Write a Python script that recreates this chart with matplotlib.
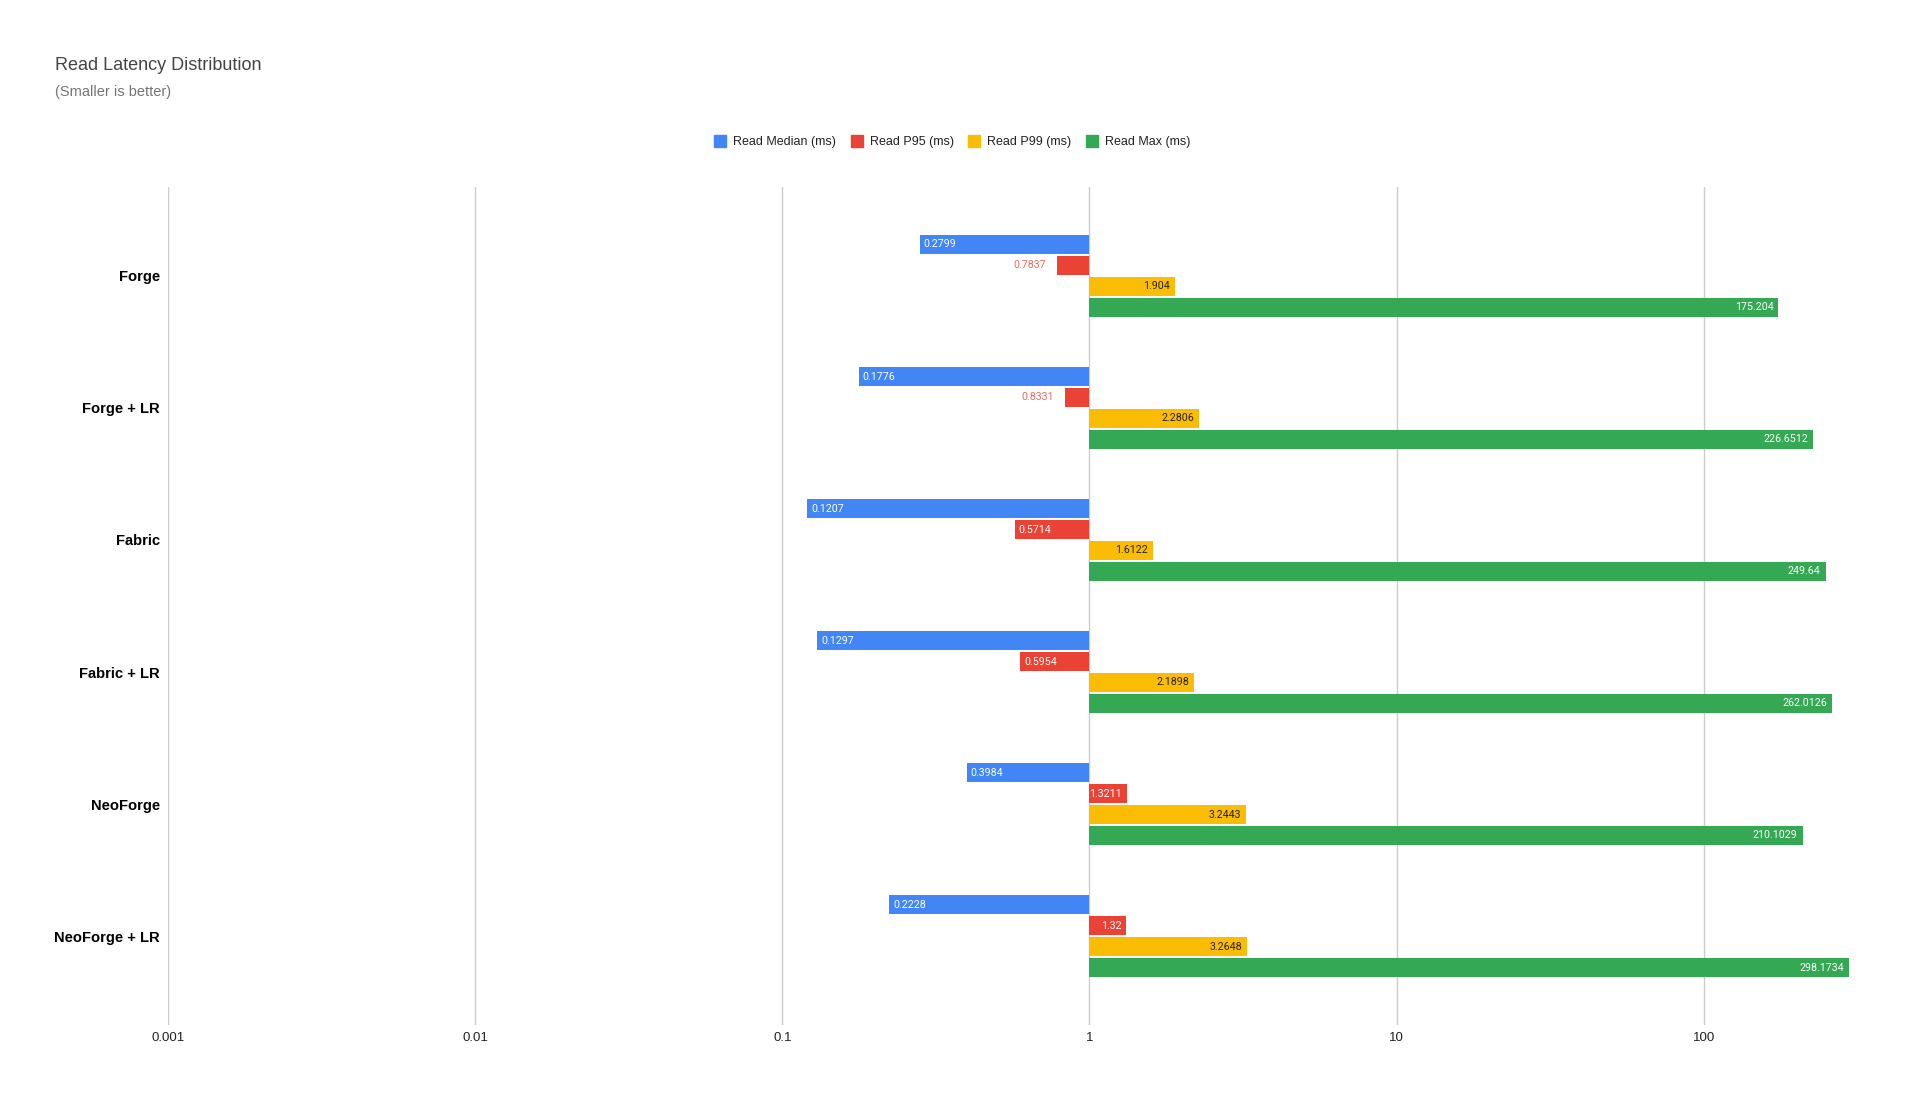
import numpy as np
import matplotlib
matplotlib.use("Agg")
import matplotlib.pyplot as plt
from matplotlib.lines import Line2D

plt.rcParams['font.family'] = ['Liberation Sans', 'DejaVu Sans']

# Data
categories = ["Forge", "Forge + LR", "Fabric", "Fabric + LR", "NeoForge", "NeoForge + LR"]
series_names = ["Read Median (ms)", "Read P95 (ms)", "Read P99 (ms)", "Read Max (ms)"]
read_median = [0.2799, 0.1776, 0.1207, 0.1297, 0.3984, 0.2228]
read_p95 = [0.7837, 0.8331, 0.5714, 0.5954, 1.3211, 1.32]
read_p99 = [1.904, 2.2806, 1.6122, 2.1898, 3.2443, 3.2648]
read_max = [175.204, 226.6512, 249.64, 262.0126, 210.1029, 298.1734]
x_ticks = [0.001, 0.01, 0.1, 1, 10, 100]
x_tick_labels = ["0.001", "0.01", "0.1", "1", "10", "100"]

series = [read_median, read_p95, read_p99, read_max]
colors = ["#4285F4", "#EA4335", "#FBBC04", "#34A853"]
inside_text = ["#ffffff", "#ffffff", "#222222", "#ffffff"]
outside_text = ["#6d9ef6", "#ee6a60", "#c99600", "#5cb873"]

W, H = 1905, 1100
fig = plt.figure(figsize=(W / 100, H / 100), dpi=100)
ax = fig.add_axes([168 / W, 1 - 1025 / H, (1852 - 168) / W, (1025 - 187) / H])

ax.set_xscale('log')
ax.set_xlim(0.001, 10 ** 2.483)
ax.set_ylim(5.674, -0.674)

y = np.arange(len(categories))
pitch = 0.159
height = 0.144
base = 1.0

bars_all = []
for i, vals in enumerate(series):
    vals = np.array(vals)
    yy = y + (i - 1.5) * pitch
    left = np.minimum(vals, base)
    width = np.abs(vals - base)
    ax.barh(yy, width, left=left, height=height, color=colors[i],
            zorder=3, linewidth=0)
    bars_all.append((i, vals, yy))

# Grid
ax.set_xticks(x_ticks)
ax.set_xticklabels(x_tick_labels)
ax.minorticks_off()
ax.grid(axis='x', color='#cccccc', linewidth=1, zorder=0)
ax.tick_params(axis='x', length=0, pad=5, labelsize=9.5, labelcolor='#222222')
ax.set_yticks(y)
ax.set_yticklabels(categories, fontweight='bold', fontsize=10.6, color='#000000')
ax.tick_params(axis='y', length=0, pad=6)
for lbl in ax.get_yticklabels():
    lbl.set_va('center_baseline')
for s in ax.spines.values():
    s.set_visible(False)

# Data labels
fig.canvas.draw()
renderer = fig.canvas.get_renderer()
lab_font = dict(fontsize=7.7, family=['Roboto', 'DejaVu Sans'], va='center', zorder=4)
for i, vals, yy in bars_all:
    for v, yc in zip(vals, yy):
        label = str(v)
        x0 = ax.transData.transform((base, yc))[0]
        x1 = ax.transData.transform((v, yc))[0]
        bar_px = abs(x1 - x0)
        if v < base:
            t = ax.annotate(label, (v, yc), xytext=(4, 0), textcoords='offset pixels',
                            ha='left', color=inside_text[i], **lab_font)
        else:
            t = ax.annotate(label, (v, yc), xytext=(-5, 0), textcoords='offset pixels',
                            ha='right', color=inside_text[i], **lab_font)
        tw = t.get_window_extent(renderer).width
        if tw + 2 > bar_px:
            t.remove()
            if v < base:
                ax.annotate(label, (v, yc), xytext=(-11, 0), textcoords='offset pixels',
                            ha='right', color=outside_text[i], **lab_font)
            else:
                ax.annotate(label, (v, yc), xytext=(11, 0), textcoords='offset pixels',
                            ha='left', color=outside_text[i], **lab_font)

# Title and subtitle
fig.text(55 / W, 1 - 66 / H, "Read Latency Distribution", fontsize=13, color='#444444',
         ha='left', va='center')
fig.text(55 / W, 1 - 92 / H, "(Smaller is better)", fontsize=10.5, color='#757575',
         ha='left', va='center')

# Legend
handles = [Line2D([], [], marker='s', linestyle='none', markersize=8.4,
                  markerfacecolor=c, markeredgecolor=c) for c in colors]
fig.legend(handles, series_names, loc='center', bbox_to_anchor=(0.5, 1 - 142 / H),
           ncol=4, frameon=False, fontsize=9.0, handlelength=0.9, handletextpad=0.6,
           columnspacing=1.2, labelcolor='#222222')

fig.savefig("out.png", dpi=100)
